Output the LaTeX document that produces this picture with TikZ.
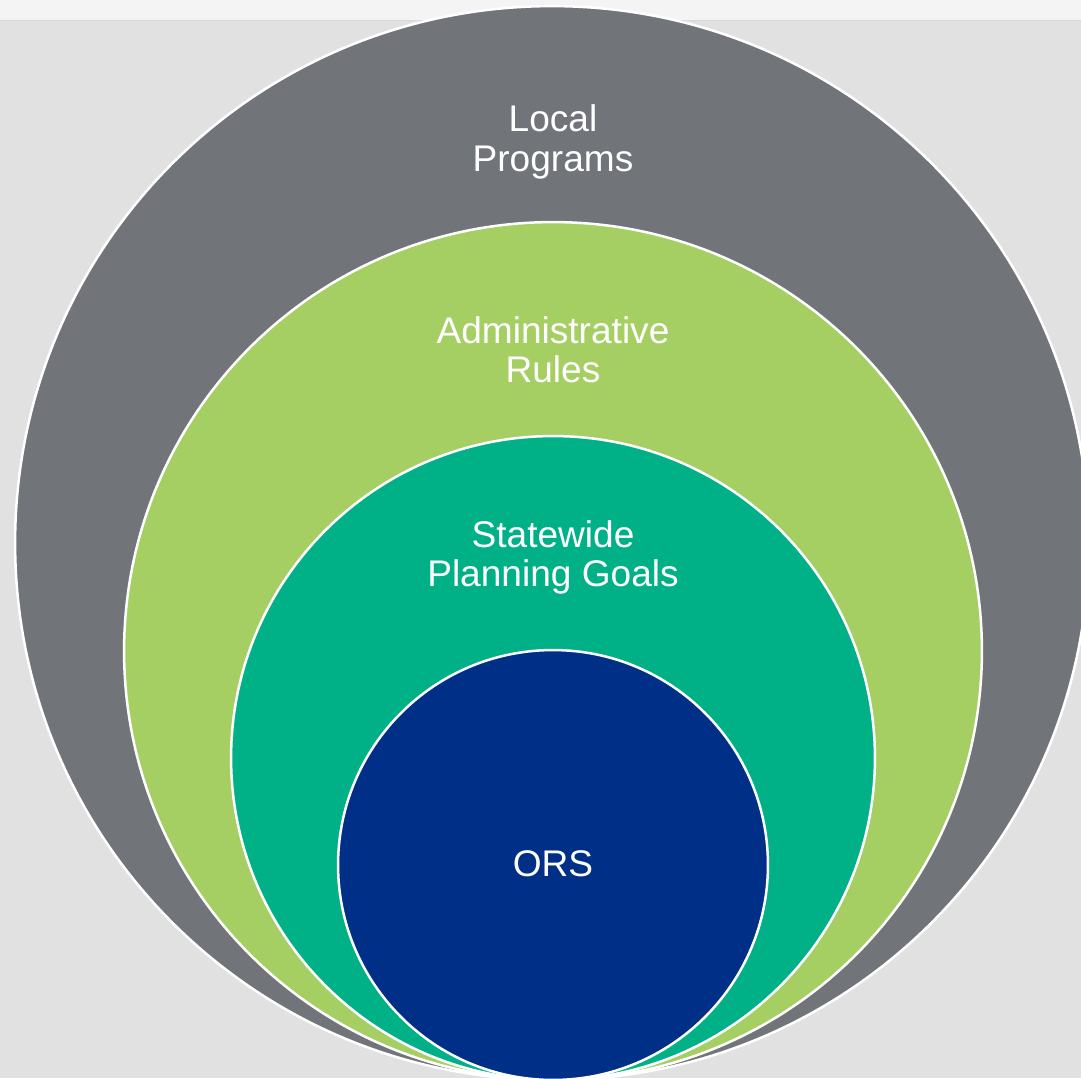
\documentclass[tikz,border=0pt]{standalone}
\usepackage{fontspec}
\setmainfont{Liberation Sans}
\definecolor{bgcol}{HTML}{E1E1E1}
\definecolor{topcol}{HTML}{F4F4F4}
\definecolor{topline}{HTML}{D8D8D8}
\definecolor{lpgray}{HTML}{717479}
\definecolor{argreen}{HTML}{A5CF63}
\definecolor{sgteal}{HTML}{00B087}
\definecolor{orsnavy}{HTML}{002F87}
\begin{document}
\begin{tikzpicture}[x=0.02cm,y=-0.02cm,
  lbl/.style={text=white, align=center, font=\fontsize{21.1}{22.2}\selectfont, inner sep=0pt, anchor=base},
  ring/.style={draw=white, line width=0.05cm}]
\useasboundingbox (0,0) rectangle (1081,1078);
\clip (0,0) rectangle (1081,1078);
\fill[bgcol] (0,0) rectangle (1081,1078);
\fill[topcol] (0,0) rectangle (1081,20);
\draw[topline, line width=0.03cm] (0,20.5) -- (1081,20.5);
\draw[ring, fill=lpgray] (552,543) circle[radius=10.74cm];
\draw[ring, fill=argreen] (553,651) circle[radius=8.58cm];
\draw[ring, fill=sgteal] (553,758) circle[radius=6.44cm];
\draw[ring, fill=orsnavy] (553,865) circle[radius=4.30cm];
\node[lbl] (local) at (553,171) {Local\\Programs};
\node[lbl] (admin) at (553,382) {Administrative\\Rules};
\node[lbl] (goals) at (553,586) {Statewide\\Planning Goals};
\node[lbl] (ors) at (553,876) {ORS};
\end{tikzpicture}
\end{document}
